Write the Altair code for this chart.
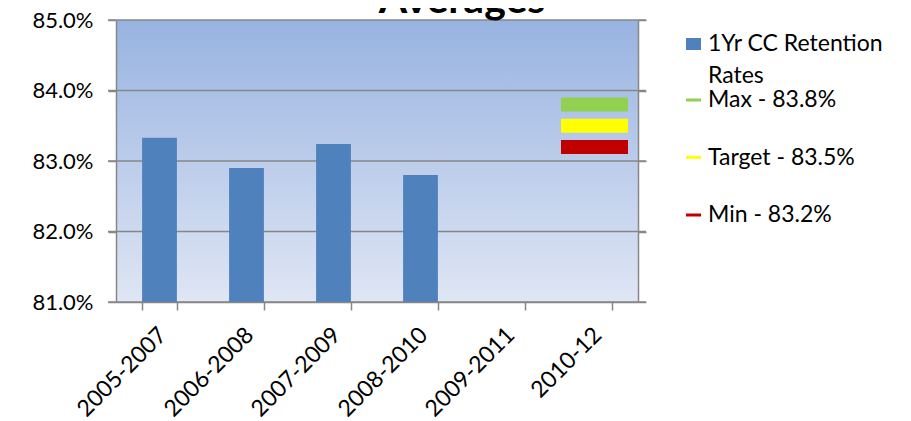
import altair as alt
import pandas as pd

# ---- data ----
categories = ["2005-2007", "2006-2008", "2007-2009", "2008-2010", "2009-2011", "2010-12"]
retention = [0.8333, 0.8290, 0.8324, 0.8280, None, None]
ref_names = ["Max - 83.8%", "Target - 83.5%", "Min - 83.2%"]
ref_values = [0.838, 0.835, 0.832]
ref_colors = ["#92D050", "#FFFF00", "#C00000"]
ref_category = "2010-12"
y_ticks = [0.81, 0.82, 0.83, 0.84, 0.85]
title_text = "Averages"
bar_series = ["1Yr CC Retention", "Rates"]
bar_color = "#4F81BD"

# ---- layout / style ----
W, H = 522, 282
FONT = "Lato"
GRID = "#878787"
DOM = [0.81, 0.85]

bars_df = pd.DataFrame({"period": categories, "rate": retention}).dropna()
ref_df = pd.DataFrame({"period": [ref_category] * len(ref_names),
                       "series": ref_names, "value": ref_values})
grid_df = pd.DataFrame({"v": y_ticks})
one = pd.DataFrame({"a": [0]})

xscale = alt.Scale(domain=categories, paddingInner=0.6, paddingOuter=0.3)
xaxis = alt.Axis(title=None, labelAngle=-45, labelAlign="right",
                 labelBaseline="middle", labelFont=FONT, labelFontSize=23,
                 labelColor="#000000", tickBand="extent", tickSize=8,
                 tickColor=GRID, tickWidth=1.5, domainColor=GRID,
                 domainWidth=1.5, labelPadding=21, labelOffset=3,
                 grid=False, zindex=1)

bg = alt.Chart(one).mark_rect(
    fill=alt.LinearGradient(
        gradient="linear", x1=0, x2=0, y1=0, y2=1,
        stops=[alt.GradientStop(color="#98b3e1", offset=0),
               alt.GradientStop(color="#dfe6f4", offset=1)])
).encode(x=alt.value(0), x2=alt.value(W), y=alt.value(0), y2=alt.value(H))

grid = alt.Chart(grid_df).mark_rule(color=GRID, strokeWidth=1.5).encode(
    y=alt.Y("v:Q", scale=alt.Scale(domain=DOM, zero=False, nice=False), axis=None),
    x=alt.value(-8), x2=alt.value(W + 8))

bars = alt.Chart(bars_df).mark_bar(color=bar_color).encode(
    x=alt.X("period:N", scale=xscale, sort=categories, axis=xaxis),
    y=alt.Y("rate:Q", scale=alt.Scale(domain=DOM, zero=False, nice=False),
            axis=alt.Axis(title=None, values=y_ticks, format=".1%", grid=False,
                          labelFont=FONT, labelFontSize=22, labelColor="#000000",
                          tickSize=8, tickColor=GRID, tickWidth=1.5,
                          domainColor=GRID, domainWidth=1.5, labelPadding=15,
                          zindex=1)),
    y2=alt.datum(0.81))

refs = alt.Chart(ref_df).mark_tick(size=67, thickness=14, opacity=1).encode(
    x=alt.X("period:N", scale=xscale, sort=categories, axis=xaxis),
    y=alt.Y("value:Q", scale=alt.Scale(domain=DOM, zero=False, nice=False),
            axis=alt.Axis(orient="right", title=None, labels=False, values=y_ticks,
                          grid=False, tickSize=8, tickColor=GRID, tickWidth=1.5,
                          domainColor=GRID, domainWidth=1.5, zindex=1)),
    color=alt.Color("series:N", scale=alt.Scale(domain=ref_names, range=ref_colors),
                    legend=None))

title = alt.Chart(one).mark_text(
    text=title_text, font=FONT, fontSize=41, fontWeight="bold",
    align="center", baseline="alphabetic", color="#000000"
).encode(x=alt.value(346), y=alt.value(-7))

# ---- hand-drawn legend (layout only) ----
LX, TX = 570, 592
LFS = 23
legend_layers = []
legend_layers.append(alt.Chart(one).mark_rect(color=bar_color).encode(
    x=alt.value(LX), x2=alt.value(LX + 15), y=alt.value(18), y2=alt.value(30)))
for txt, yb in zip(bar_series, [30.7, 63]):
    legend_layers.append(alt.Chart(one).mark_text(
        text=txt, font=FONT, fontSize=LFS, align="left", baseline="alphabetic",
        color="#000000").encode(x=alt.value(TX), y=alt.value(yb)))
for name, col, yl, yb in zip(ref_names, ref_colors, [80, 137.3, 195], [86.7, 145, 201.7]):
    legend_layers.append(alt.Chart(one).mark_rule(color=col, strokeWidth=3).encode(
        x=alt.value(LX), x2=alt.value(LX + 15), y=alt.value(yl)))
    legend_layers.append(alt.Chart(one).mark_text(
        text=name, font=FONT, fontSize=LFS, align="left", baseline="alphabetic",
        color="#000000").encode(x=alt.value(TX), y=alt.value(yb)))

chart = alt.layer(bg, grid, bars, refs, title, *legend_layers).resolve_scale(
    y="independent"
).properties(
    width=W, height=H,
    autosize=alt.AutoSizeParams(type="none"),
    padding={"left": 108, "top": 12, "right": 263, "bottom": 120},
).configure_view(stroke=None).configure(background="#ffffff")

chart.save("out.html", embed_options={"renderer": "svg", "actions": False})
